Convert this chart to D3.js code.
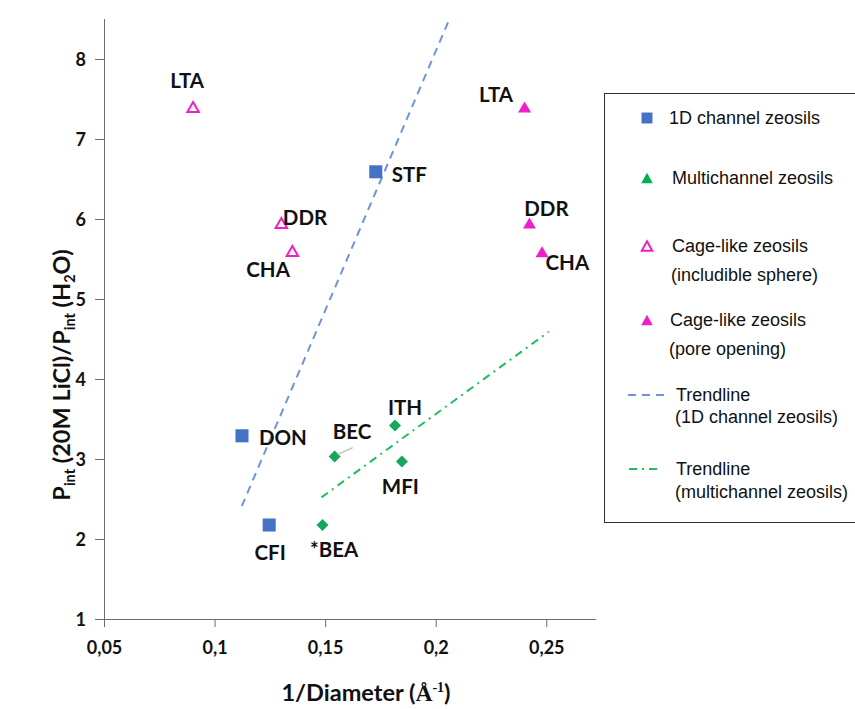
<!DOCTYPE html>
<html>
<head>
<meta charset="utf-8">
<script src="https://cdn.jsdelivr.net/npm/d3@7"></script>
<style>
  body { margin: 0; background: #fff; }
  svg { display: block; }
</style>
</head>
<body>
<svg id="chart" width="855" height="709"></svg>
<script>
// ---- data ----
const oneDNames = ["STF", "DON", "CFI"];
const oneDX = [0.1729, 0.1124, 0.1247];
const oneDY = [6.59, 3.29, 2.175];

const multiNames = ["BEC", "ITH", "MFI", "*BEA"];
const multiX = [0.1543, 0.1816, 0.1847, 0.1488];
const multiY = [3.03, 3.42, 2.97, 2.175];

const cageNames = ["LTA", "DDR", "CHA"];
const sphereX = [0.0903, 0.1302, 0.1352];
const sphereY = [7.40, 5.95, 5.60];
const poreX = [0.2402, 0.2424, 0.2481];
const poreY = [7.40, 5.95, 5.59];

// trendline end points (x, y)
const trend1DX = [0.1123, 0.2067];
const trend1DY = [2.41, 8.53];
const trendMultiX = [0.1483, 0.2511];
const trendMultiY = [2.52, 4.59];

const xTicks = [0.05, 0.1, 0.15, 0.2, 0.25];
const xTickLabels = ["0,05", "0,1", "0,15", "0,2", "0,25"];
const yTicks = [1, 2, 3, 4, 5, 6, 7, 8];

const legendItems = [
  { key: "square", lines: ["1D channel zeosils"] },
  { key: "greenTri", lines: ["Multichannel zeosils"] },
  { key: "openTri", lines: ["Cage-like zeosils", "(includible sphere)"] },
  { key: "fillTri", lines: ["Cage-like zeosils", "(pore opening)"] },
  { key: "dash", lines: ["Trendline", "(1D channel zeosils)"] },
  { key: "dashdot", lines: ["Trendline", "(multichannel zeosils)"] }
];

// ---- styles ----
const BLUE = "#4472C4";
const GREEN = "#00B050";
const MAGENTA = "#EE1EC8";
const AXIS = "#6d6d6d";
const LABEL_FONT = "Lato, 'Noto Sans', sans-serif";
const LEGEND_FONT = "'Liberation Sans', Arial, sans-serif";

const svg = d3.select("#chart");

const x = d3.scaleLinear().domain([0.05, 0.2725]).range([104, 596]);
const y = d3.scaleLinear().domain([1, 8.5]).range([619, 19]);

svg.append("defs").append("clipPath").attr("id", "plotClip")
  .append("rect").attr("x", 104).attr("y", 19).attr("width", 492).attr("height", 600);

// ---- axes ----
const xAxis = d3.axisBottom(x).tickValues(xTicks).tickSize(8).tickFormat((d, i) => xTickLabels[i]);
const gx = svg.append("g").attr("transform", `translate(0,${y(1)})`).call(xAxis);
gx.select(".domain").attr("stroke", AXIS).attr("d", `M96,0.5H596`);
gx.selectAll(".tick line").attr("stroke", AXIS);
gx.selectAll(".tick text")
  .attr("y", 22).attr("dy", "0.71em")
  .attr("font-family", LABEL_FONT).attr("font-weight", 700).attr("font-size", 18).attr("fill", "#111");

const yAxis = d3.axisLeft(y).tickValues(yTicks).tickSize(9).tickFormat(d3.format("d"));
const gy = svg.append("g").attr("transform", `translate(${x(0.05)},0)`).call(yAxis);
gy.select(".domain").attr("stroke", AXIS).attr("d", `M0.5,${y(1)}V${y(8.5)}`);
gy.selectAll(".tick line").attr("stroke", AXIS);
gy.selectAll(".tick text")
  .attr("x", -18).attr("dy", "0.36em")
  .attr("font-family", LABEL_FONT).attr("font-weight", 700).attr("font-size", 18).attr("fill", "#111");

// ---- axis titles ----
const yt = svg.append("text")
  .attr("transform", "translate(70,375) rotate(-90)")
  .attr("text-anchor", "middle")
  .attr("font-family", LABEL_FONT).attr("font-weight", 700).attr("font-size", 23.5).attr("fill", "#111");
yt.append("tspan").text("P");
yt.append("tspan").attr("font-size", 14.5).attr("dy", 4.5).text("int");
yt.append("tspan").attr("dy", -4.5).text(" (20M LiCl)/P");
yt.append("tspan").attr("font-size", 14.5).attr("dy", 4.5).text("int");
yt.append("tspan").attr("dy", -4.5).text(" (H");
yt.append("tspan").attr("font-size", 14.5).attr("dy", 4.5).text("2");
yt.append("tspan").attr("dy", -4.5).text("O)");

const xt = svg.append("text")
  .attr("x", 366).attr("y", 701)
  .attr("text-anchor", "middle")
  .attr("font-family", LABEL_FONT).attr("font-weight", 700).attr("font-size", 23.5).attr("fill", "#111");
xt.append("tspan").text("1/Diameter (");
xt.append("tspan").attr("font-family", "'Liberation Serif', 'DejaVu Serif', serif").attr("font-weight", 700).text("Å");
xt.append("tspan").attr("font-family", "'Liberation Serif', serif").attr("font-size", 14).attr("dy", -9).text("-1");
xt.append("tspan").attr("dy", 9).text(")");

// ---- trendlines ----
const line = d3.line().x(d => x(d[0])).y(d => y(d[1]));
const plot = svg.append("g").attr("clip-path", "url(#plotClip)");
plot.append("path")
  .attr("d", line(d3.zip(trend1DX, trend1DY)))
  .attr("fill", "none").attr("stroke", "#6F93DC").attr("stroke-width", 2)
  .attr("stroke-dasharray", "8,6");
plot.append("path")
  .attr("d", line(d3.zip(trendMultiX, trendMultiY)))
  .attr("fill", "none").attr("stroke", "#1DBE5E").attr("stroke-width", 2)
  .attr("stroke-dasharray", "8,5,2,5");

// ---- markers ----
const sqSym = d3.symbol().type(d3.symbolSquare).size(170);
const diaPath = s => `M0,${-s}L${s},0L0,${s}L${-s},0Z`;
// triangle centred on its bounding box
const triPath = (w, h) => `M0,${-h / 2}L${w / 2},${h / 2}L${-w / 2},${h / 2}Z`;

const oneD = d3.zip(oneDNames, oneDX, oneDY);
svg.append("g").selectAll("path").data(oneD).join("path")
  .attr("transform", d => `translate(${x(d[1])},${y(d[2])})`)
  .attr("d", sqSym).attr("fill", BLUE);

const multi = d3.zip(multiNames, multiX, multiY);
svg.append("g").selectAll("path").data(multi).join("path")
  .attr("transform", d => `translate(${x(d[1])},${y(d[2])})`)
  .attr("d", diaPath(6)).attr("fill", "#16A85A");

const sphere = d3.zip(cageNames, sphereX, sphereY);
svg.append("g").selectAll("path").data(sphere).join("path")
  .attr("transform", d => `translate(${x(d[1])},${y(d[2])})`)
  .attr("d", triPath(11.5, 10)).attr("fill", "none").attr("stroke", MAGENTA).attr("stroke-width", 2);

const pore = d3.zip(cageNames, poreX, poreY);
svg.append("g").selectAll("path").data(pore).join("path")
  .attr("transform", d => `translate(${x(d[1])},${y(d[2])})`)
  .attr("d", triPath(13, 11)).attr("fill", MAGENTA);

// BEC leader line
const bec = multi[0];
svg.append("line")
  .attr("x1", x(bec[1]) + 3).attr("y1", y(bec[2]) - 2)
  .attr("x2", x(bec[1]) + 18).attr("y2", y(bec[2]) - 9)
  .attr("stroke", "#bfbfbf").attr("stroke-width", 1.3);

// ---- point labels (offsets in px from the marker) ----
const labelLayout = {
  oneD: { STF: [16, 10, "start"], DON: [17, 9.5, "start"], CFI: [1, 35, "middle"] },
  multi: { BEC: [17.5, -17.5, "middle"], ITH: [10, -10, "middle"], MFI: [-1.5, 32.5, "middle"], "*BEA": [-12.5, 32, "start"] },
  sphere: { LTA: [-6, -19, "middle"], DDR: [1.5, 1.5, "start"], CHA: [-2.5, 26, "end"] },
  pore: { LTA: [-28.5, -5, "middle"], DDR: [17, -7.5, "middle"], CHA: [3.5, 18.5, "start"] }
};
function addLabels(rows, layout) {
  svg.append("g").selectAll("text").data(rows).join("text")
    .attr("x", d => x(d[1]) + layout[d[0]][0])
    .attr("y", d => y(d[2]) + layout[d[0]][1])
    .attr("text-anchor", d => layout[d[0]][2])
    .attr("font-family", LABEL_FONT).attr("font-weight", 700).attr("font-size", 20.5)
    .attr("fill", "#111")
    .text(d => d[0]);
}
addLabels(oneD, labelLayout.oneD);
addLabels(multi, labelLayout.multi);
addLabels(sphere, labelLayout.sphere);
addLabels(pore, labelLayout.pore);

// ---- legend ----
const lg = svg.append("g");
lg.append("rect").attr("x", 604.5).attr("y", 93.5).attr("width", 260).attr("height", 429)
  .attr("fill", "#fff").attr("stroke", "#333").attr("stroke-width", 1);

const legendRows = [
  { sy: 118, ty: [118], tx: 669 },
  { sy: 178, ty: [178], tx: 672 },
  { sy: 246, ty: [246, 275], tx: 672 },
  { sy: 320, ty: [320, 349], tx: 670 },
  { sy: 395, ty: [395, 417], tx: 676 },
  { sy: 469, ty: [469, 492], tx: 676 }
];
legendItems.forEach((item, i) => {
  const r = legendRows[i];
  const g = lg.append("g");
  if (item.key === "square") {
    g.append("path").attr("transform", `translate(647,${r.sy})`).attr("d", d3.symbol().type(d3.symbolSquare).size(120)).attr("fill", BLUE);
  } else if (item.key === "greenTri") {
    g.append("path").attr("transform", `translate(647,${r.sy})`).attr("d", triPath(11.5, 10.5)).attr("fill", GREEN);
  } else if (item.key === "openTri") {
    g.append("path").attr("transform", `translate(647,${r.sy})`).attr("d", triPath(10.5, 9.5)).attr("fill", "none").attr("stroke", MAGENTA).attr("stroke-width", 2);
  } else if (item.key === "fillTri") {
    g.append("path").attr("transform", `translate(647,${r.sy})`).attr("d", triPath(11.5, 10.5)).attr("fill", MAGENTA);
  } else if (item.key === "dash") {
    g.append("line").attr("x1", 628).attr("x2", 667).attr("y1", r.sy).attr("y2", r.sy)
      .attr("stroke", "#6F93DC").attr("stroke-width", 2).attr("stroke-dasharray", "8,6");
  } else {
    g.append("line").attr("x1", 629).attr("x2", 662).attr("y1", r.sy).attr("y2", r.sy)
      .attr("stroke", "#1DBE5E").attr("stroke-width", 2).attr("stroke-dasharray", "8,5,2,5");
  }
  item.lines.forEach((t, j) => {
    g.append("text")
      .attr("x", j === 0 ? r.tx : r.tx - 1).attr("y", r.ty[j]).attr("dy", "0.35em")
      .attr("font-family", LEGEND_FONT).attr("font-size", 18).attr("fill", "#111")
      .text(t);
  });
});
</script>
</body>
</html>
